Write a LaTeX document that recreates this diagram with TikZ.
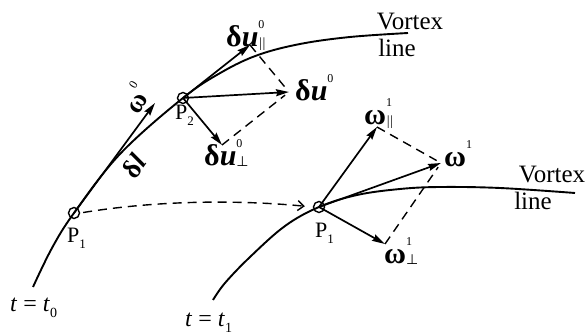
\documentclass[tikz,border=0pt]{standalone}
\usepackage{fontspec}
\setmainfont{Liberation Serif}
\newfontfamily\dvfont{DejaVu Sans}
\usetikzlibrary{arrows.meta}
\newcommand\supsubx[2]{\makebox[0pt][l]{\raisebox{0.6em}{\fontsize{12}{12}\selectfont\mdseries #1}}{\fontsize{14}{14}\selectfont\mdseries\raisebox{-0.05em}{#2}}}
\newcommand\suponly[1]{\raisebox{0.6em}{\fontsize{12}{12}\selectfont\mdseries #1}}
\newcommand\parsym{\textit{|\kern-0.5pt|}}
\newcommand\perpsym{{\dvfont ⊥}}
\begin{document}
\begin{tikzpicture}[x=1pt,y=-1pt,
  curve/.style={line width=1.9pt},
  vec/.style={line width=1.7pt,-{Stealth[length=13pt,width=7pt,inset=1.5pt]}},
  dashline/.style={line width=1.4pt,dash pattern=on 9pt off 6pt},
  ptc/.style={circle,draw,line width=1.4pt,minimum size=11pt,inner sep=0pt},
  lbl/.style={font=\fontsize{25}{25}\selectfont,inner sep=0pt},
  plbl/.style={font=\fontsize{22}{22}\selectfont,inner sep=0pt,anchor=base west},
  sym/.style={font=\fontsize{30}{30}\selectfont\bfseries,inner sep=0pt,anchor=base west},
]
\useasboundingbox (0,0) rectangle (587,336);

% points
\node[ptc] (P1) at (74,213) {};
\node[ptc] (P2) at (183,98) {};
\node[ptc] (Q1) at (319,207) {};

% vortex lines
\draw[curve] plot[smooth,tension=0.6] coordinates {(33,287) (52,248) (74,213) (120,154) (183,98) (222,72) (258,55) (300,44) (350,37) (408,33)};
\draw[curve] plot[smooth,tension=0.6] coordinates {(213,300) (225,283) (250,257) (285,226) (319,207) (357,195) (400,189) (440,187) (500,188) (575,193)};

% tips
\coordinate (w0) at (155,103);
\coordinate (u0par) at (250,45);
\coordinate (u0) at (289,92);
\coordinate (u0perp) at (222,145);
\coordinate (w1par) at (377,127);
\coordinate (w1) at (441,163);
\coordinate (w1perp) at (385,244);

% vectors
\draw[vec] (P1.center) -- (w0);
\draw[vec] (P2.center) -- (u0par);
\draw[vec] (P2.center) -- (u0);
\draw[vec] (P2.center) -- (u0perp);
\draw[vec] (Q1.center) -- (w1par);
\draw[vec] (Q1.center) -- (w1);
\draw[vec] (Q1.center) -- (w1perp);

% parallelograms
\draw[dashline,shorten >=5pt] (u0par) -- (u0);
\draw[dashline,shorten >=5pt] (u0perp) -- (u0);
\draw[dashline,shorten >=5pt] (w1par) -- (w1);
\draw[dashline,shorten >=5pt] (w1perp) -- (w1);

% transport arrow
\draw[dashline,-{Straight Barb[length=6pt,width=10pt]},shorten <=3pt,shorten >=8pt]
  (P1.east) .. controls (160,200) and (240,200) .. (Q1.west);

% labels
\node[lbl,anchor=base] (vt1) at (410,30) {Vortex};
\node[lbl,anchor=base] (vl1) at (397,57) {line};
\node[lbl,anchor=base] (vt2) at (552,183) {Vortex};
\node[lbl,anchor=base] (vl2) at (533,210) {line};

\node[plbl] (lP1) at (67,243) {P\raisebox{-0.25em}{\fontsize{13}{13}\selectfont 1}};
\node[plbl] (lP2) at (175,120) {P\raisebox{-0.25em}{\fontsize{13}{13}\selectfont 2}};
\node[plbl] (lQ1) at (315,238) {P\raisebox{-0.25em}{\fontsize{13}{13}\selectfont 1}};

\node[plbl,font=\fontsize{24}{24}\selectfont] (t0) at (10,312) {\textit{t} = \textit{t}\raisebox{-0.25em}{\fontsize{14}{14}\selectfont 0}};
\node[plbl,font=\fontsize{24}{24}\selectfont] (t1) at (185,327) {\textit{t} = \textit{t}\raisebox{-0.25em}{\fontsize{14}{14}\selectfont 1}};

\node[font=\fontsize{27}{27}\selectfont\bfseries,inner sep=0pt,rotate=58] (lw0) at (135,98) {ω\suponly{0}};
\node[font=\fontsize{27}{27}\selectfont\bfseries,inner sep=0pt,rotate=55] (ldl) at (134,166) {δ\textit{l}};

\node[sym] (lu0par) at (226,47) {δ\textit{u}\supsubx{0}{\parsym}};
\node[sym] (lu0) at (295,101) {δ\textit{u}\suponly{0}};
\node[sym] (lu0perp) at (204,166) {δ\textit{u}\supsubx{0}{\perpsym}};
\node[sym] (lw1par) at (364,125) {ω\supsubx{1}{\parsym}};
\node[sym] (lw1) at (444,167) {ω\suponly{1}};
\node[sym] (lw1perp) at (384,264) {ω\supsubx{1}{\perpsym}};
\end{tikzpicture}
\end{document}
